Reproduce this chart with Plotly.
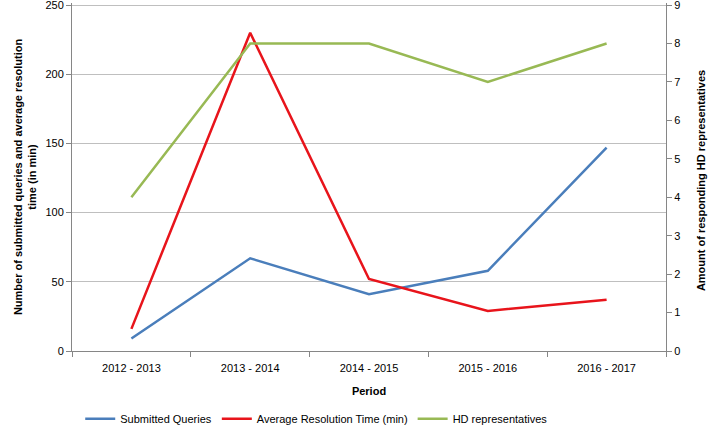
import plotly.graph_objects as go

periods = ["2012 - 2013", "2013 - 2014", "2014 - 2015", "2015 - 2016", "2016 - 2017"]
submitted_queries = [9, 67, 41, 58, 147]
avg_resolution_time = [16, 230, 52, 29, 37]
hd_representatives = [4, 8, 8, 7, 8]

FONT = "Liberation Sans"
axis_col = "#868686"

fig = go.Figure()
fig.add_trace(go.Scatter(x=periods, y=submitted_queries, name="Submitted Queries",
                         mode="lines", line=dict(color="#4a7ebb", width=2.5)))
fig.add_trace(go.Scatter(x=periods, y=avg_resolution_time, name="Average Resolution Time (min)",
                         mode="lines", line=dict(color="#e8141b", width=2.5)))
fig.add_trace(go.Scatter(x=periods, y=hd_representatives, name="HD representatives",
                         mode="lines", line=dict(color="#98b954", width=2.5), yaxis="y2"))

fig.update_layout(
    width=709, height=432,
    margin=dict(l=72, r=43, t=3, b=81, autoexpand=False),
    paper_bgcolor="white", plot_bgcolor="white",
    font=dict(family=FONT, size=11, color="#000000"),
    xaxis=dict(
        type="category", range=[-0.5, 4.5], tickson="boundaries", ticks="outside", ticklen=5,
        tickcolor=axis_col, showline=True, linecolor=axis_col, linewidth=1,
        showgrid=False, tickfont=dict(size=11), ticklabelstandoff=7, automargin=False,
        title=dict(text="<b>Period</b>", font=dict(size=11), standoff=14),
    ),
    yaxis=dict(
        range=[0, 251.5], tickvals=[0, 50, 100, 150, 200, 250], ticks="outside", ticklen=5,
        tickcolor=axis_col, showline=True, linecolor=axis_col, linewidth=1, automargin=False,
        showgrid=True, gridcolor="#bfbfbf", gridwidth=1, zeroline=False,
        tickfont=dict(size=11), ticklabeloverflow="allow",
    ),
    yaxis2=dict(
        range=[0, 9.054], tickvals=list(range(10)), overlaying="y", side="right", automargin=False,
        ticks="outside", ticklen=5, tickcolor=axis_col,
        showline=True, linecolor=axis_col, linewidth=1, ticklabeloverflow="allow",
        showgrid=False, zeroline=False, tickfont=dict(size=11),
    ),
    legend=dict(orientation="h", x=0.412, xanchor="center", y=-0.153, yanchor="top",
                font=dict(size=11), itemwidth=30, traceorder="normal"),
    showlegend=True,
    annotations=[
        dict(text="<b>Number of submitted queries and average resolution<br>time (in min)</b>",
             xref="paper", yref="paper", x=-0.079, y=0.5, xanchor="center", yanchor="middle",
             textangle=-90, showarrow=False, font=dict(size=11)),
        dict(text="<b>Amount of responding HD representatives</b>",
             xref="paper", yref="paper", x=1.06, y=0.49, xanchor="center", yanchor="middle",
             textangle=-90, showarrow=False, font=dict(size=11)),
    ],
)

fig.write_html("out.html", post_script="document.body.style.margin='0';",
               config={"displayModeBar": False})
